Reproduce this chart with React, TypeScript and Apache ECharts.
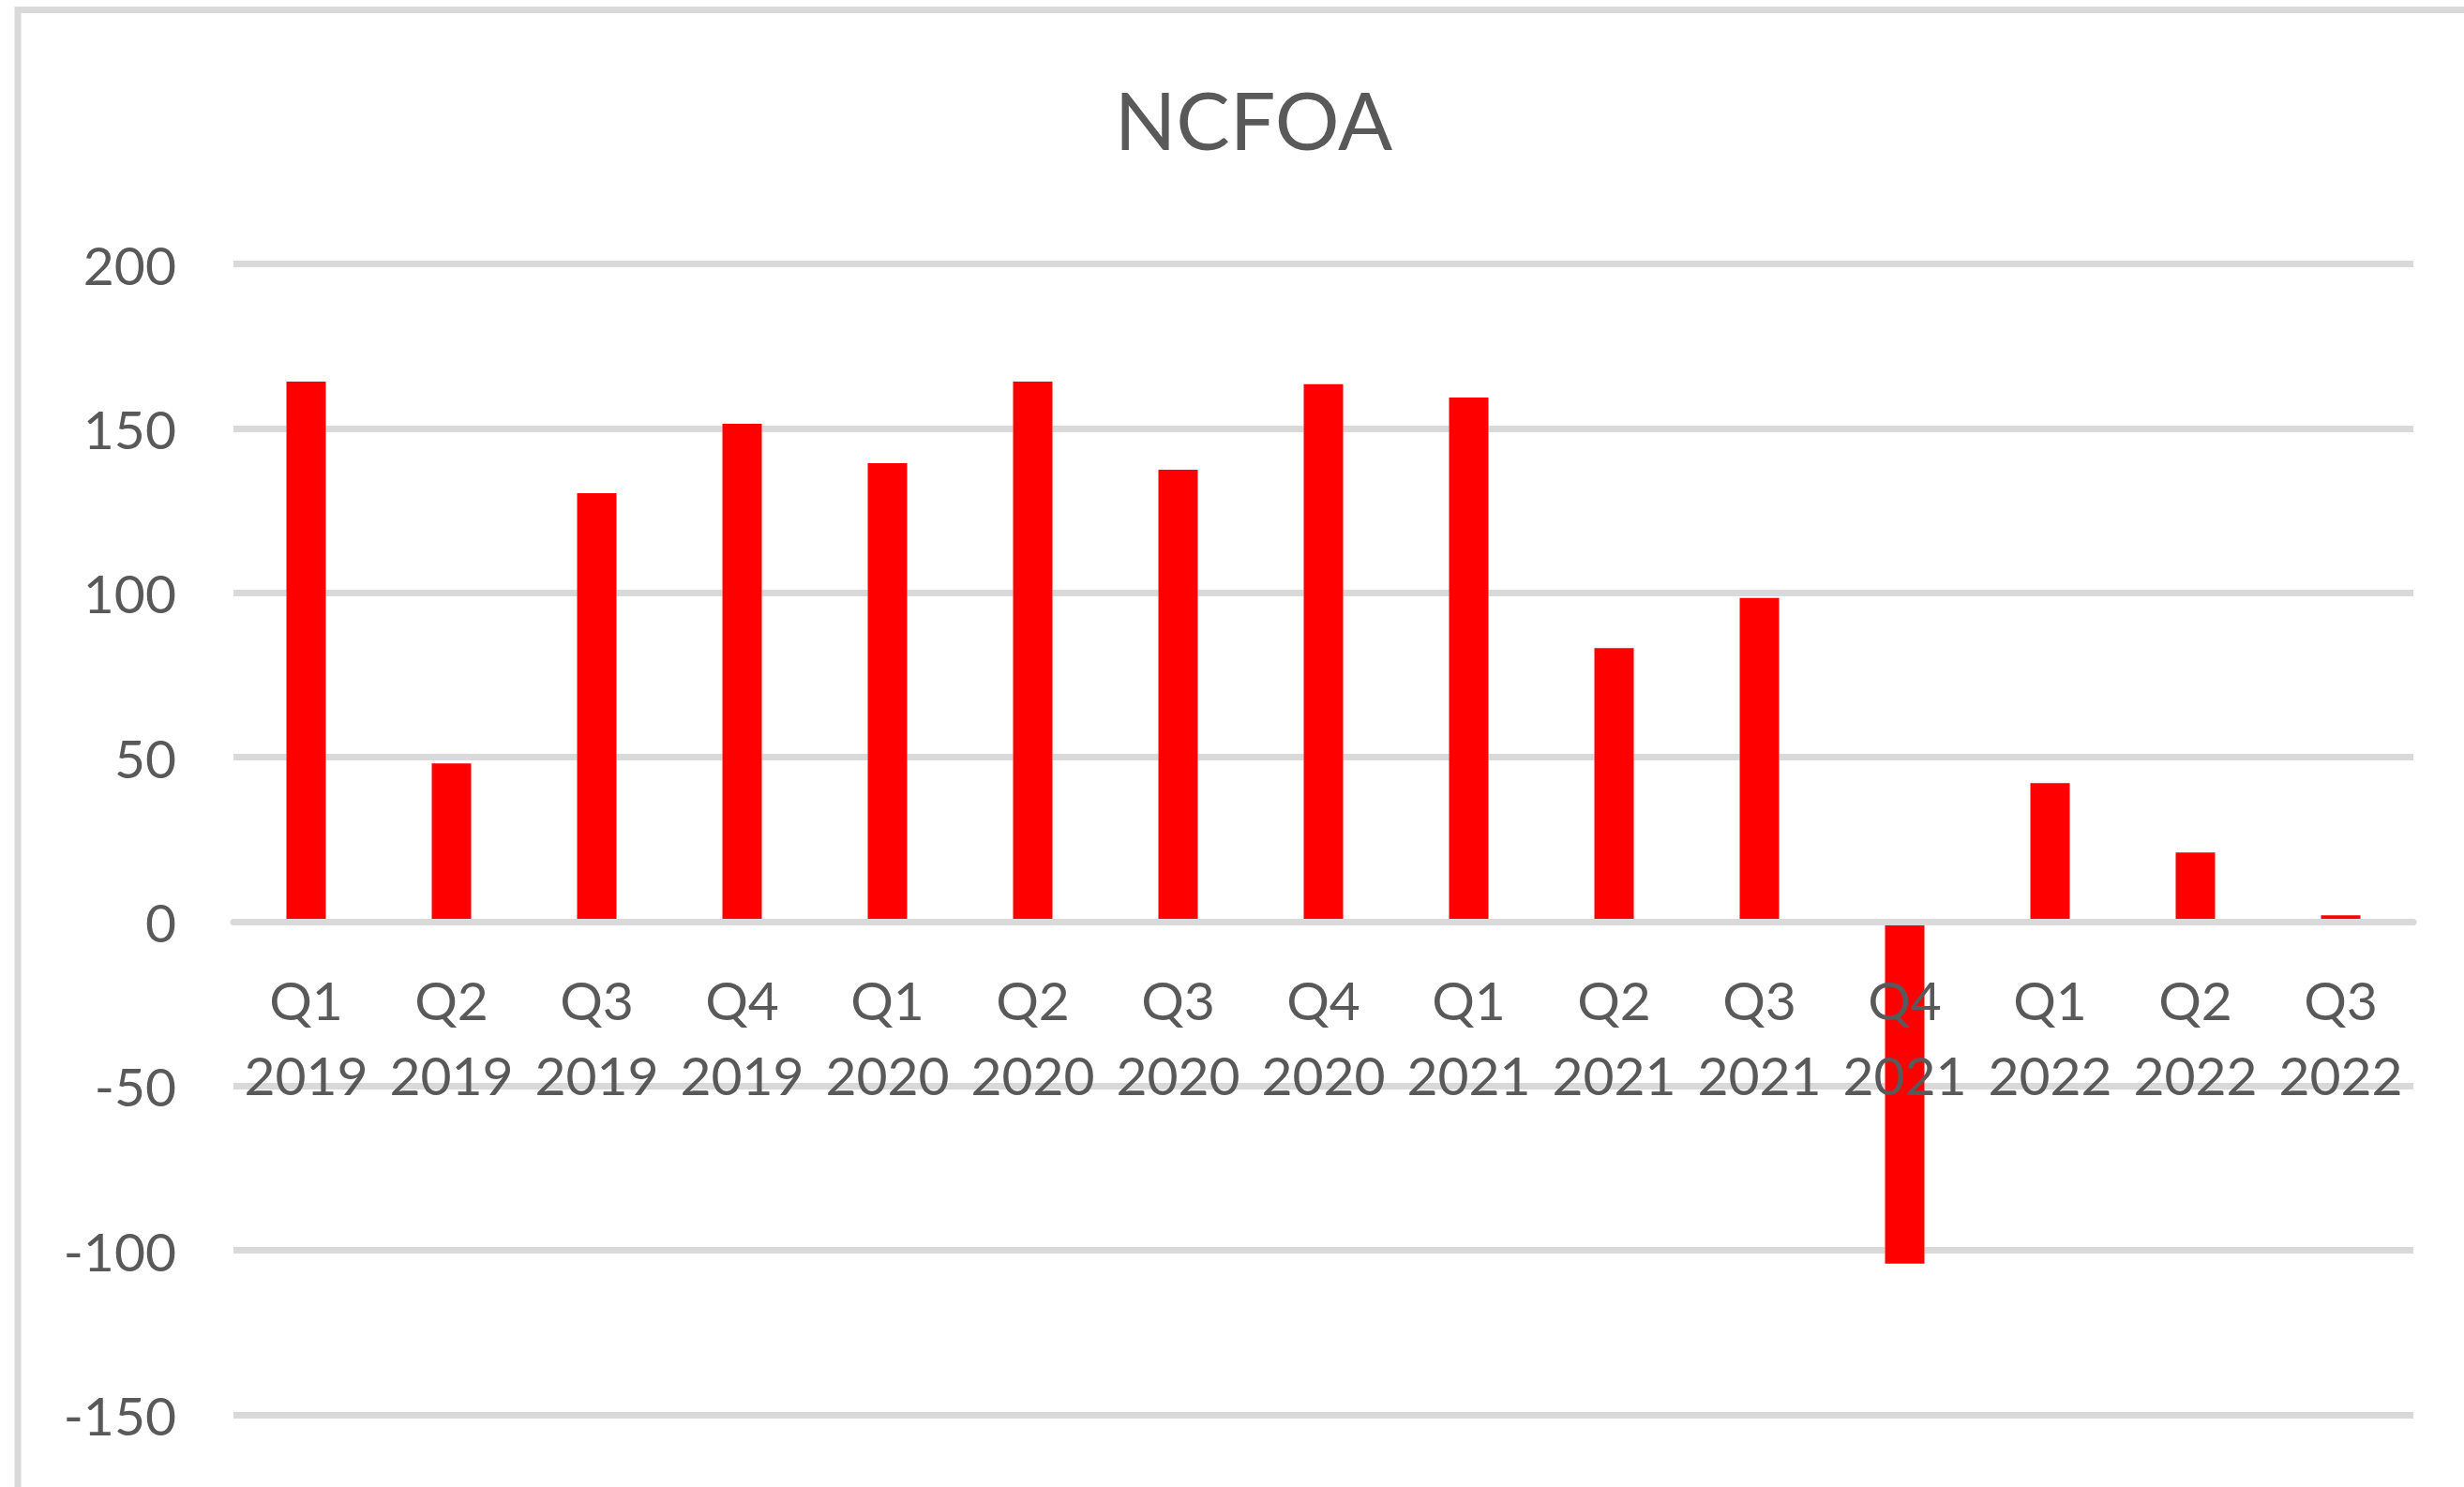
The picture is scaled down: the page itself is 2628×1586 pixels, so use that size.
import React, { useEffect, useRef } from "react";
import * as echarts from "echarts";

const categories = [
  "Q1\n2019", "Q2\n2019", "Q3\n2019", "Q4\n2019",
  "Q1\n2020", "Q2\n2020", "Q3\n2020", "Q4\n2020",
  "Q1\n2021", "Q2\n2021", "Q3\n2021", "Q4\n2021",
  "Q1\n2022", "Q2\n2022", "Q3\n2022",
];
const ncfoaValues = [164.2, 48.1, 130.3, 151.4, 139.4, 164.2, 137.4, 163.4, 159.4, 83.2, 98.4, -104, 42.1, 21.0, 1.9];
const yTicks = { min: -150, max: 200, interval: 50 };
const titleText = "NCFOA";

const TEXT = "#595959";
const GRID = "#d9d9d9";
const FONT = "Lato";

const W = 2628;
const H = 1586;
const GRID_LEFT = 249;
const GRID_RIGHT = 54;
const GRID_TOP = 281.5;
const GRID_BOTTOM = 77;

export default function App() {
  const ref = useRef<HTMLDivElement>(null);
  useEffect(() => {
    if (!ref.current) return;
    const chart = echarts.init(ref.current, undefined, { renderer: "svg" });
    const plotH = H - GRID_TOP - GRID_BOTTOM;
    // distance from bottom of the grid up to the zero value, from the axis scale
    const zeroOffset = ((0 - yTicks.min) / (yTicks.max - yTicks.min)) * plotH;
    chart.setOption({
      animation: false,
      backgroundColor: "#ffffff",
      graphic: [
        {
          type: "rect",
          shape: { x: 19, y: 10.5, width: 2800, height: 1800 },
          style: { fill: "none", stroke: GRID, lineWidth: 7 },
          silent: true,
          z: 0,
        },
        {
          type: "text",
          x: 1337,
          y: 126,
          style: {
            text: titleText,
            fill: TEXT,
            font: `86px ${FONT}`,
            textAlign: "center",
            textVerticalAlign: "middle",
          },
          z: 100,
        },
      ],
      grid: {
        left: GRID_LEFT,
        right: GRID_RIGHT,
        top: GRID_TOP,
        bottom: GRID_BOTTOM,
        containLabel: false,
        outerBoundsMode: "none",
      },
      xAxis: {
        type: "category",
        data: categories,
        z: 10,
        offset: -zeroOffset,
        axisTick: { show: false },
        axisLine: { show: true, onZero: false, lineStyle: { color: GRID, width: 7 } },
        axisLabel: {
          color: TEXT,
          fontFamily: FONT,
          fontSize: 57,
          lineHeight: 80,
          margin: 43,
          interval: 0,
        },
        splitLine: { show: false },
      },
      yAxis: {
        type: "value",
        min: yTicks.min,
        max: yTicks.max,
        interval: yTicks.interval,
        axisLine: { show: false },
        axisTick: { show: false },
        axisLabel: {
          color: TEXT,
          fontFamily: FONT,
          fontSize: 57,
          margin: 61,
          padding: [0, 0, 7, 0],
          formatter: (v: number) => String(v),
        },
        splitLine: { show: true, lineStyle: { color: GRID, width: 7 } },
      },
      series: [
        {
          type: "bar",
          name: "outline",
          data: ncfoaValues,
          barWidth: 42,
          barGap: "-100%",
          silent: true,
          itemStyle: { color: "#ffffff", borderColor: "#ffffff", borderWidth: 14 },
          z: 2,
        },
        {
          type: "bar",
          name: titleText,
          data: ncfoaValues,
          barWidth: 42,
          barGap: "-100%",
          itemStyle: { color: "#ff0000" },
          z: 3,
        },
      ],
    });
    return () => chart.dispose();
  }, []);
  return (
    <div
      ref={ref}
      style={{ position: "absolute", left: 0, top: 0, width: W, height: H }}
    />
  );
}
